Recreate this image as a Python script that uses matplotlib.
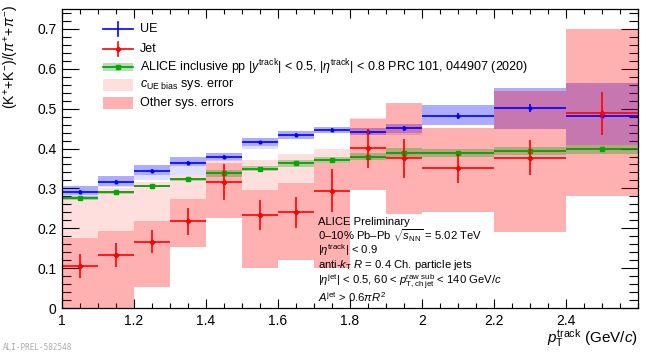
import numpy as np
import matplotlib
matplotlib.use("Agg")
import matplotlib.pyplot as plt
from matplotlib.patches import Rectangle
from matplotlib.lines import Line2D

plt.rcParams['font.family'] = ['Liberation Sans', 'DejaVu Sans']
plt.rcParams['mathtext.fontset'] = 'custom'
plt.rcParams['mathtext.rm'] = 'Liberation Sans'
plt.rcParams['mathtext.it'] = 'Liberation Sans:italic'
plt.rcParams['mathtext.bf'] = 'Liberation Sans:bold'

# ---- data ----
edges = [1.0, 1.1, 1.2, 1.3, 1.4, 1.5, 1.6, 1.7, 1.8, 1.9, 2.0, 2.2, 2.4, 2.6]

ue = [0.292, 0.317, 0.344, 0.364, 0.380, 0.416, 0.435, 0.447, 0.442, 0.451, 0.482, 0.501, 0.482]
ue_stat = [0.004, 0.004, 0.004, 0.004, 0.004, 0.004, 0.004, 0.004, 0.006, 0.006, 0.007, 0.010, 0.006]
ue_sys_lo = [0.283, 0.307, 0.333, 0.355, 0.370, 0.406, 0.425, 0.440, 0.434, 0.440, 0.459, 0.448, 0.409]
ue_sys_hi = [0.306, 0.330, 0.359, 0.378, 0.388, 0.426, 0.444, 0.453, 0.451, 0.461, 0.509, 0.553, 0.565]
ue_cue_lo = [0.279, 0.303, 0.321, 0.334, 0.368, 0.400, 0.423, 0.438, 0.434, 0.434, 0.459, 0.448, 0.409]

jet = [0.106, 0.133, 0.166, 0.217, 0.316, 0.233, 0.240, 0.294, 0.401, 0.376, 0.350, 0.377, 0.488]
jet_stat = [0.030, 0.030, 0.029, 0.033, 0.044, 0.037, 0.039, 0.054, 0.049, 0.049, 0.036, 0.044, 0.055]
jet_oth_lo = [0.0, 0.0, 0.052, 0.154, 0.225, 0.101, 0.120, 0.100, 0.296, 0.237, 0.240, 0.191, 0.281]
jet_oth_hi = [0.175, 0.193, 0.217, 0.273, 0.363, 0.296, 0.314, 0.363, 0.475, 0.515, 0.451, 0.545, 0.699]
jet_cue_hi = [0.279, 0.300, 0.317, 0.334, 0.370, 0.371, 0.386, 0.398, 0.476, 0.515, 0.451, 0.545, 0.699]

pp = [0.275, 0.290, 0.306, 0.323, 0.338, 0.349, 0.363, 0.372, 0.380, 0.390, 0.388, 0.394, 0.398]
pp_sys = [0.005, 0.003, 0.003, 0.004, 0.009, 0.006, 0.009, 0.008, 0.010, 0.011, 0.010, 0.011, 0.011]
pp_stat = [0.002] * 13

# ---- figure ----
W, H = 654, 353
fig = plt.figure(figsize=(W / 100, H / 100), dpi=100)
L, R, T, B = 62, 638, 9, 308
ax = fig.add_axes([L / W, 1 - B / H, (R - L) / W, (B - T) / H])

e = np.array(edges)
x = (e[:-1] + e[1:]) / 2
xw = (e[1:] - e[:-1]) / 2

PINK = '#FFDEDE'
BLUE = '#0000FF'
RED = '#FF0000'
GREEN = '#009900'
RED_A = 0.31

for i in range(len(x)):
    x0, w = e[i], e[i + 1] - e[i]
    # c_UE bias part of the jet systematic (above the other-sys box)
    if jet_cue_hi[i] > jet_oth_hi[i]:
        ax.add_patch(Rectangle((x0, jet_oth_hi[i]), w, jet_cue_hi[i] - jet_oth_hi[i],
                               facecolor=PINK, edgecolor='none', zorder=1))
    ax.add_patch(Rectangle((x0, ue_cue_lo[i]), w, ue_sys_hi[i] - ue_cue_lo[i],
                           facecolor=BLUE, alpha=0.13, edgecolor='none', zorder=2))
    ax.add_patch(Rectangle((x0, ue_sys_lo[i]), w, ue_sys_hi[i] - ue_sys_lo[i],
                           facecolor=BLUE, alpha=0.22, edgecolor='none', zorder=2))
for i in range(len(x)):
    x0, w = e[i], e[i + 1] - e[i]
    ax.add_patch(Rectangle((x0, jet_oth_lo[i]), w, jet_oth_hi[i] - jet_oth_lo[i],
                           facecolor=RED, alpha=RED_A, edgecolor='none', zorder=3))
for i in range(len(x)):
    x0, w = e[i], e[i + 1] - e[i]
    ax.add_patch(Rectangle((x0, pp[i] - pp_sys[i]), w, 2 * pp_sys[i],
                           facecolor=GREEN, alpha=0.3, edgecolor='none', zorder=4))

ax.errorbar(x, pp, xerr=xw, yerr=pp_stat, fmt='s', color=GREEN, mfc='#00AA00', mec='#00AA00',
            ms=3.5, elinewidth=1.2, capsize=0, zorder=6)
ax.errorbar(x, ue, xerr=xw, yerr=ue_stat, fmt='o', color=BLUE, ms=2, elinewidth=1.2,
            capsize=0, zorder=7)
ax.errorbar(x, jet, xerr=xw, yerr=jet_stat, fmt='P', color=RED, ms=3, elinewidth=1.2,
            capsize=0, zorder=8)

ax.set_xlim(1.0, 2.6)
ax.set_ylim(0, 0.75)
ax.set_xticks([1.0, 1.2, 1.4, 1.6, 1.8, 2.0, 2.2, 2.4])
ax.set_xticklabels(['1', '1.2', '1.4', '1.6', '1.8', '2', '2.2', '2.4'])
ax.set_xticks(np.arange(1.0, 2.601, 0.05), minor=True)
ax.set_yticks([0, 0.1, 0.2, 0.3, 0.4, 0.5, 0.6, 0.7])
ax.set_yticklabels(['0', '0.1', '0.2', '0.3', '0.4', '0.5', '0.6', '0.7'])
ax.set_yticks(np.arange(0, 0.751, 0.02), minor=True)
ax.tick_params(axis='both', which='both', direction='in', top=True, right=True, labelsize=10,
               width=0.8, colors='black')
ax.tick_params(axis='x', which='major', length=6.5, pad=4)
ax.tick_params(axis='x', which='minor', length=3.5)
ax.tick_params(axis='y', which='major', length=12, pad=4)
ax.tick_params(axis='y', which='minor', length=6.5)
for s in ax.spines.values():
    s.set_linewidth(0.9)
    s.set_zorder(10)

# axis labels
fig.text(12 / W, 1 - 5 / H, r'$(\mathrm{K}^{+}\!+\!\mathrm{K}^{-})/(\pi^{+}\!+\!\pi^{-})$',
         rotation=90, ha='center', va='top', fontsize=10)
fig.text(R / W, 1 - 338 / H, r'$p_{\mathrm{T}}^{\mathrm{track}}$ (GeV/$c$)',
         ha='right', va='center', fontsize=11)
fig.text(3 / W, 1 - 348 / H, 'ALI-PREL-582548', family='DejaVu Sans Mono', fontsize=5.5,
         color='#AAAAAA', ha='left', va='center')

# ---- legend (manual) ----
def ax_xy(px, py):
    return (px - L) / (R - L), (B - py) / (B - T)

lx0, lx1, ltx = 103, 133, 140
entries_y = [29, 49, 67, 85, 103]
labels = ['UE', 'Jet',
          r'ALICE inclusive pp $|y^{\mathrm{track}}|$ < 0.5, $|\eta^{\mathrm{track}}|$ < 0.8 PRC 101, 044907 (2020)',
          r'$c_{\mathrm{UE\ bias}}$ sys. error', 'Other sys. errors']
tr = ax.transAxes
a0, yy = ax_xy(lx0, entries_y[0]); a1, _ = ax_xy(lx1, entries_y[0])
am = (a0 + a1) / 2
# UE
ax.add_line(Line2D([a0, a1], [yy, yy], color=BLUE, lw=1.2, transform=tr, zorder=11))
ax.add_line(Line2D([am, am], [yy - 0.025, yy + 0.025], color=BLUE, lw=1.2, transform=tr, zorder=11))
# Jet
_, yy = ax_xy(lx0, entries_y[1])
ax.add_line(Line2D([a0, a1], [yy, yy], color=RED, lw=1.2, transform=tr, zorder=11))
ax.add_line(Line2D([am, am], [yy - 0.025, yy + 0.025], color=RED, lw=1.2, transform=tr, zorder=11))
ax.plot([am], [yy], marker='P', color=RED, ms=3, transform=tr, zorder=11, clip_on=False)
# ALICE pp
_, yy = ax_xy(lx0, entries_y[2])
ax.add_patch(Rectangle((a0, yy - 0.012), a1 - a0, 0.024, facecolor=GREEN, alpha=0.3,
                       edgecolor='none', transform=tr, zorder=11))
ax.add_line(Line2D([a0, a1], [yy, yy], color=GREEN, lw=1.2, transform=tr, zorder=11))
ax.plot([am], [yy], marker='s', color='#00AA00', ms=3.5, transform=tr, zorder=11, clip_on=False)
# c_UE
_, yy = ax_xy(lx0, entries_y[3])
ax.add_patch(Rectangle((a0, yy - 0.019), a1 - a0, 0.038, facecolor=PINK, edgecolor='none',
                       transform=tr, zorder=11))
# Other
_, yy = ax_xy(lx0, entries_y[4])
ax.add_patch(Rectangle((a0, yy - 0.019), a1 - a0, 0.038, facecolor=RED, alpha=RED_A,
                       edgecolor='none', transform=tr, zorder=11))
for py, lab in zip(entries_y, labels):
    tx, ty = ax_xy(ltx, py)
    ax.text(tx, ty, lab, transform=tr, ha='left', va='center', fontsize=9, zorder=11)

# ---- text block ----
block = ['ALICE Preliminary',
         r'0–10% Pb–Pb $\sqrt{s_{\mathrm{NN}}}$ = 5.02 TeV',
         r'$|\eta^{\mathrm{track}}|$ < 0.9',
         r'anti-$k_{\mathrm{T}}$ $R$ = 0.4 Ch. particle jets',
         r'$|\eta^{\mathrm{jet}}|$ < 0.5, 60 < $p_{\mathrm{T,\,ch\,jet}}^{\mathrm{raw\ sub}}$ < 140 GeV/$c$',
         r'$A^{\mathrm{jet}}$ > 0.6$\pi R^{2}$']
block_y = [225, 240, 254.5, 268.5, 284.5, 302.5]
for py, t in zip(block_y, block):
    tx, ty = ax_xy(318, py)
    ax.text(tx, ty, t, transform=tr, ha='left', va='baseline', fontsize=8.1, zorder=11)

fig.savefig('out.png', dpi=100)
